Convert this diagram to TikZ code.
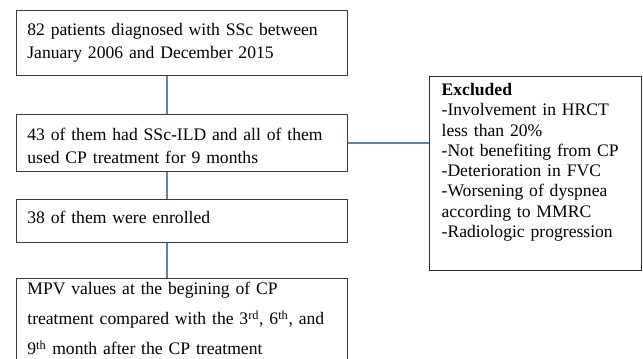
\documentclass[tikz,border=0pt]{standalone}
\usepackage{fontspec}
\setmainfont{Liberation Serif}
\usepackage{tikz}
\usetikzlibrary{positioning, calc}
\definecolor{boxGray}{HTML}{3A3A3A}
\definecolor{linkBlue}{HTML}{5C84B1}
\usepackage{xcolor}

\begin{document}
\begin{tikzpicture}[
  x=0.75pt, y=-0.75pt,
  stage/.style={draw=boxGray, line width=0.8pt, anchor=north west,
                minimum width=248.25pt, inner xsep=8pt, inner ysep=3pt,
                text width=232pt, align=left,
                font=\fontsize{13.2pt}{17.25pt}\selectfont},
  excl/.style={draw=boxGray!80!black, line width=1pt, anchor=north west,
               minimum width=159pt, inner xsep=9pt, inner ysep=5pt,
               text width=141pt, align=left,
               font=\fontsize{13.2pt}{15.2pt}\selectfont},
  link/.style={linkBlue, line width=1.2pt}
]
\useasboundingbox (0,0) rectangle (643,358);
\coordinate (spine) at (167,0);

\node[stage, minimum height=48.75pt] (screen) at (16,10)
  {82 patients diagnosed with SSc between\\January 2006 and December 2015};
\node[stage, minimum height=42.75pt] (ild) at (16,114)
  {\rule{0pt}{14pt}43 of them had SSc-ILD and all of them\\used CP treatment for 9 months};
\node[stage, minimum height=32.25pt] (enrol) at (16,199)
  {38 of them were enrolled\rule[-5pt]{0pt}{0pt}};
\node[stage, font=\fontsize{13.2pt}{22.5pt}\selectfont] (mpv) at (16,278)
  {MPV values at the begining of CP\\treatment compared with the 3\textsuperscript{rd}, 6\textsuperscript{th}, and\\9\textsuperscript{th} month after the CP treatment\rule[-20pt]{0pt}{0pt}};
\node[excl] (excluded) at (429,76)
  {\textbf{Excluded}\\-Involvement in HRCT\\less than 20\%\\-Not benefiting from CP\\-Deterioration in FVC\\-Worsening of dyspnea\\according to MMRC\\-Radiologic progression\rule[-20pt]{0pt}{0pt}};

\draw[link] (screen.south -| spine) -- (ild.north -| spine);
\draw[link] (ild.south -| spine) -- (enrol.north -| spine);
\draw[link] (enrol.south -| spine) -- (mpv.north -| spine);
\draw[link] (ild.east) -- (ild.east -| excluded.west);
\end{tikzpicture}
\end{document}
